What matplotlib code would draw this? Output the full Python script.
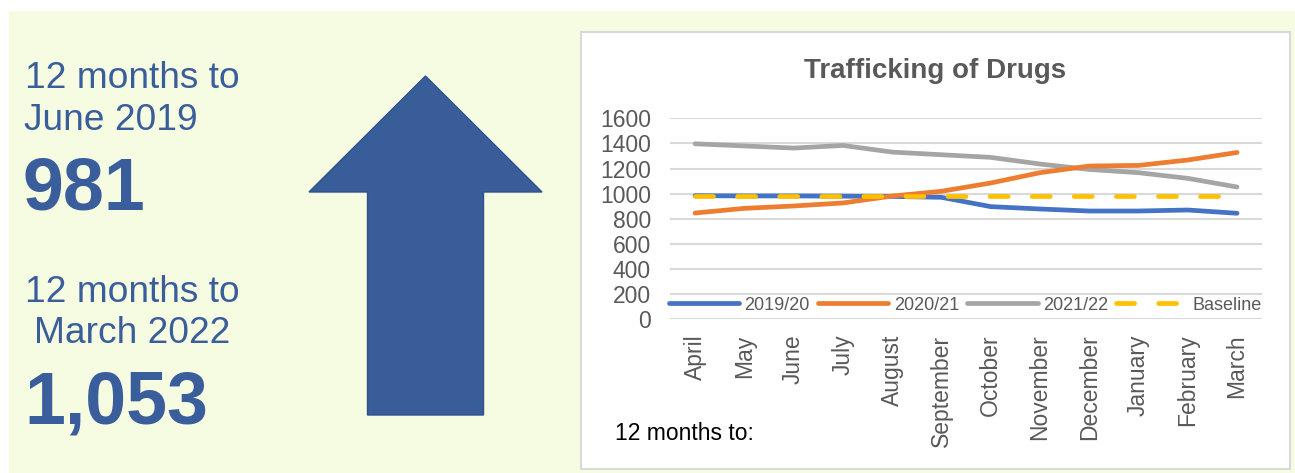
import numpy as np
import matplotlib
matplotlib.use("Agg")
import matplotlib.pyplot as plt
from matplotlib.patches import Rectangle, Polygon

plt.rcParams['font.family'] = ['Liberation Sans', 'DejaVu Sans']

# data
months = ['April', 'May', 'June', 'July', 'August', 'September', 'October',
          'November', 'December', 'January', 'February', 'March']
y2019 = [984, 982, 982, 980, 978, 971, 897, 878, 862, 862, 870, 844]
y2020 = [846, 883, 902, 926, 981, 1019, 1085, 1167, 1220, 1225, 1268, 1328]
y2021 = [1397, 1380, 1363, 1384, 1331, 1310, 1289, 1236, 1193, 1167, 1122, 1053]
baseline = [981] * 12
series_names = ['2019/20', '2020/21', '2021/22', 'Baseline']
yticks = [0, 200, 400, 600, 800, 1000, 1200, 1400, 1600]

W, H = 1295, 473
fig = plt.figure(figsize=(W / 100, H / 100), dpi=100)
fig.patch.set_facecolor('white')

def fx(px):
    return px / W

def fy(py):
    return 1 - py / H

# yellow panel
fig.patches.append(Rectangle((fx(9), 0), fx(1295 - 9), 1 - 11 / H,
                             transform=fig.transFigure, facecolor='#F6FCE2',
                             edgecolor='none', zorder=0))
# white chart box
fig.patches.append(Rectangle((fx(581), fy(469)), fx(1290 - 581), (469 - 32) / H,
                             transform=fig.transFigure, facecolor='white',
                             edgecolor='#D9D9D9', linewidth=1.5, zorder=1))

blue_txt = '#3A5D9C'
fig.text(fx(25), fy(88), '12 months to', fontsize=26.7, color=blue_txt)
fig.text(fx(24), fy(130), 'June 2019', fontsize=26.7, color=blue_txt)
fig.text(fx(22), fy(210), '981', fontsize=53, fontweight='bold', color=blue_txt)
fig.text(fx(25), fy(302), '12 months to', fontsize=26.7, color=blue_txt)
fig.text(fx(34), fy(343), 'March 2022', fontsize=26.7, color=blue_txt)
fig.text(fx(24), fy(423), '1,053', fontsize=53, fontweight='bold', color=blue_txt)

# up arrow
arrow_px = [(425.5, 76), (542, 192), (483.5, 192), (483.5, 415),
            (367.5, 415), (367.5, 192), (309, 192)]
fig.patches.append(Polygon([(fx(x), fy(y)) for x, y in arrow_px], closed=True,
                           transform=fig.transFigure, facecolor='#385D99',
                           edgecolor='#2F528F', linewidth=1, zorder=2))

# chart
ax = fig.add_axes([fx(670.4), fy(319.3), fx(1261.7 - 670.4), (319.3 - 118.3) / H])
ax.set_facecolor('none')
ax.set_zorder(3)
x = np.arange(len(months))
lw = 3.4
ax.plot(x, y2019, color='#4472C4', lw=lw, solid_capstyle='round', label=series_names[0], zorder=3)
ax.plot(x, y2020, color='#ED7D31', lw=lw, solid_capstyle='round', label=series_names[1], zorder=4)
ax.plot(x, y2021, color='#A5A5A5', lw=lw, solid_capstyle='round', label=series_names[2], zorder=3)
bl, = ax.plot(x, baseline, color='#FFC000', lw=lw, dash_capstyle='round',
              label=series_names[3], zorder=5)
bl.set_dashes((13 / lw, 17.3 / lw))

ax.set_xlim(-0.5, 11.5)
ax.set_ylim(0, 1600)
ax.set_yticks(yticks)
ax.set_xticks(x)
ax.set_xticklabels(months, rotation=90, fontsize=16.5, color='#595959')
ax.tick_params(axis='y', labelsize=16.5, labelcolor='#595959', length=0, pad=14)
ax.tick_params(axis='x', length=0, pad=11)
ax.grid(axis='y', color='#D9D9D9', lw=1.5)
ax.set_axisbelow(True)
for s in ['top', 'right', 'left', 'bottom']:
    ax.spines[s].set_visible(False)

leg = ax.legend(ncol=4, loc='center', bbox_to_anchor=((965 - 670.4) / 591.3, (319.3 - 305) / 201),
                frameon=False, fontsize=13, handlelength=3.9, handletextpad=0.3,
                columnspacing=0.45, borderpad=0, labelcolor='#595959')

fig.text(fx(935.5), fy(78), 'Trafficking of Drugs', fontsize=20, fontweight='bold',
         color='#595959', ha='center', zorder=5)
fig.text(fx(615), fy(440), '12 months to:', fontsize=16.5, color='black', zorder=5)

fig.savefig('out.png', dpi=100)
